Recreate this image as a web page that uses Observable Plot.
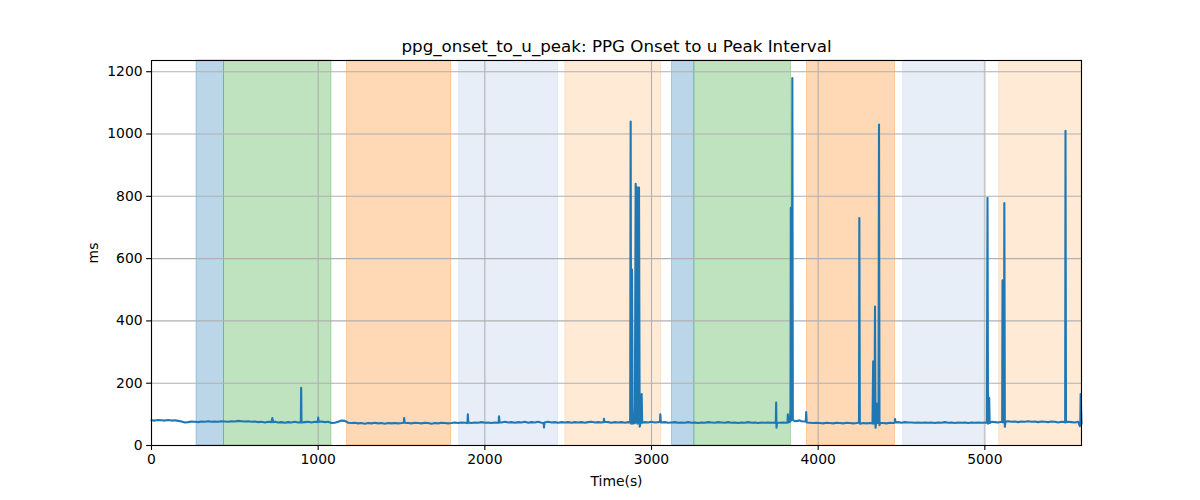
<!DOCTYPE html>
<html>
<head>
<meta charset="utf-8">
<script src="https://cdn.jsdelivr.net/npm/d3@7"></script>
<script src="https://cdn.jsdelivr.net/npm/@observablehq/plot@0.6"></script>
<style>
  html, body { margin: 0; padding: 0; background: white; }
  #chart { width: 1200px; height: 500px; }
</style>
</head>
<body>
<div id="chart"></div>
<script>
const chartTitle = "ppg_onset_to_u_peak: PPG Onset to u Peak Interval";
const xLabel = "Time(s)";
const yLabel = "ms";
const xTicks = [0, 1000, 2000, 3000, 4000, 5000];
const yTicks = [0, 200, 400, 600, 800, 1000, 1200];

// shaded phases: start (s), end (s), colour
const phaseStart = [270, 435, 1173, 1846, 2483, 3123, 3257, 3933, 4510, 5086];
const phaseEnd   = [435, 1080, 1798, 2439, 3057, 3257, 3837, 4461, 4996, 5580];
const phaseColor = ["#1f77b4", "#2ca02c", "#ff7f0e", "#aec7e8", "#ffbb78",
                    "#1f77b4", "#2ca02c", "#ff7f0e", "#aec7e8", "#ffbb78"];

// [time (s), interval (ms)]
const series = [
  [0,81],[20,80],[40,82],[60,81],[80,80],[100,82],[120,80],[140,81],[160,79],[180,77],
  [200,74],[220,75],[240,77],[260,76],[280,75],[300,77],[320,76],[340,78],[360,76],[380,77],
  [400,76],[420,78],[440,77],[460,76],[480,78],[500,77],[520,79],[540,78],[560,77],[580,78],
  [600,76],[620,77],[640,75],[660,76],[680,74],[700,76],[720,75],[725,88],[730,75],[740,76],
  [760,74],[780,75],[800,73],[820,75],[840,74],[860,76],[880,74],[896,75],[898,185],[900,74],
  [920,75],[940,76],[960,74],[980,76],[998,75],[1000,90],[1003,76],[1020,77],[1040,75],[1060,76],
  [1080,72],[1100,73],[1120,76],[1140,80],[1160,79],[1180,73],[1200,72],[1220,73],[1240,71],[1260,72],
  [1280,70],[1300,72],[1320,71],[1340,73],[1360,71],[1380,72],[1400,70],[1420,72],[1440,71],[1460,72],
  [1480,71],[1500,72],[1514,73],[1516,88],[1519,73],[1540,72],[1560,71],[1580,73],[1600,72],[1620,71],
  [1640,73],[1660,72],[1680,70],[1700,72],[1720,71],[1740,73],[1760,72],[1780,71],[1800,72],[1820,74],
  [1840,72],[1860,74],[1880,73],[1896,72],[1898,100],[1901,74],[1920,72],[1940,74],[1960,73],[1980,75],
  [2000,73],[2020,74],[2040,72],[2060,74],[2083,73],[2085,94],[2088,75],[2100,74],[2120,76],[2140,74],
  [2160,75],[2180,73],[2200,75],[2220,74],[2240,76],[2260,73],[2280,75],[2300,74],[2320,76],[2340,73],
  [2353,72],[2355,58],[2358,74],[2380,76],[2400,74],[2420,75],[2440,73],[2460,75],[2480,74],[2500,75],
  [2520,73],[2540,75],[2560,74],[2580,75],[2600,73],[2620,75],[2640,76],[2660,74],[2680,75],[2700,74],
  [2713,75],[2715,86],[2718,76],[2740,75],[2760,73],[2780,75],[2800,74],[2820,75],[2840,73],[2860,75],
  [2872,74],[2875,1040],[2878,70],[2881,80],[2883,565],[2886,130],[2889,70],[2894,76],[2900,72],[2905,840],
  [2908,75],[2912,830],[2915,70],[2920,78],[2925,828],[2929,60],[2935,74],[2938,75],[2941,165],[2944,73],
  [2960,75],[2980,74],[3000,76],[3020,74],[3040,75],[3051,76],[3053,100],[3056,74],[3080,75],[3100,73],
  [3120,74],[3140,75],[3160,73],[3180,74],[3200,73],[3220,75],[3240,73],[3260,74],[3280,72],[3300,74],
  [3320,73],[3340,75],[3360,74],[3380,73],[3400,75],[3420,74],[3440,73],[3460,75],[3480,73],[3500,74],
  [3520,72],[3540,74],[3560,73],[3580,75],[3600,73],[3620,74],[3640,72],[3660,74],[3680,73],[3700,74],
  [3720,73],[3740,74],[3746,72],[3748,138],[3750,57],[3753,74],[3770,73],[3790,74],[3810,73],[3816,75],
  [3818,100],[3821,74],[3830,76],[3834,120],[3836,763],[3838,80],[3842,90],[3845,1180],[3848,82],[3860,78],
  [3880,79],[3886,81],[3900,78],[3920,77],[3926,77],[3928,107],[3931,74],[3950,73],[3970,72],[3990,73],
  [4010,72],[4030,71],[4050,73],[4070,72],[4090,71],[4110,73],[4130,72],[4150,71],[4170,73],[4190,72],
  [4210,71],[4230,72],[4243,73],[4245,80],[4247,730],[4250,72],[4252,70],[4270,72],[4290,71],[4310,72],
  [4326,71],[4330,270],[4332,70],[4338,72],[4341,446],[4344,57],[4348,74],[4353,135],[4356,72],[4362,74],
  [4365,1030],[4368,65],[4372,73],[4390,72],[4410,71],[4430,73],[4450,72],[4459,73],[4461,85],[4464,74],
  [4480,75],[4500,73],[4520,75],[4540,74],[4560,74],[4580,73],[4600,74],[4620,73],[4640,74],[4660,73],
  [4680,74],[4700,72],[4720,74],[4740,73],[4760,75],[4780,73],[4800,74],[4820,72],[4840,74],[4860,73],
  [4880,74],[4900,72],[4920,74],[4940,73],[4960,74],[4980,73],[5000,74],[5012,73],[5016,795],[5019,70],
  [5023,75],[5026,153],[5029,72],[5040,76],[5060,75],[5080,74],[5100,76],[5104,75],[5106,530],[5108,76],
  [5115,74],[5117,778],[5120,60],[5124,77],[5140,78],[5160,76],[5180,77],[5200,75],[5220,77],[5240,76],
  [5260,78],[5280,76],[5300,77],[5320,75],[5340,77],[5360,76],[5380,75],[5400,77],[5420,76],[5440,74],
  [5460,76],[5480,75],[5482,74],[5484,1010],[5487,75],[5500,76],[5520,75],[5540,74],[5560,76],[5570,62],
  [5573,75],[5575,165],[5580,70]
];

const phases = phaseStart.map((s, i) => ({start: s, end: phaseEnd[i], color: phaseColor[i]}));
const points = series.map(([t, v]) => ({t, v}));

const font = "DejaVu Sans, sans-serif";

const chart = Plot.plot({
  width: 1200,
  height: 500,
  marginLeft: 151,
  marginRight: 119,
  marginTop: 60,
  marginBottom: 55,
  style: {fontFamily: font, fontSize: "13.9px", color: "black", background: "white", overflow: "visible"},
  x: {domain: [0, 5580], label: null},
  y: {domain: [0, 1236], label: null},
  marks: [
    Plot.rect(phases, {x1: "start", x2: "end", fill: "color", fillOpacity: 0.3,
      stroke: "color", strokeOpacity: 0.3, strokeWidth: 1}),
    Plot.gridX(xTicks, {stroke: "#b0b0b0", strokeOpacity: 1, strokeWidth: 1.1}),
    Plot.gridY(yTicks, {stroke: "#b0b0b0", strokeOpacity: 1, strokeWidth: 1.1}),
    Plot.line(points, {x: "t", y: "v", stroke: "#1f77b4", strokeWidth: 2.1, strokeLinejoin: "round"}),
    Plot.frame({stroke: "black", strokeWidth: 1.1}),
    Plot.axisX(xTicks, {tickSize: 4.9, tickPadding: 4, fontSize: 13.9, label: null, tickFormat: d => String(d), strokeWidth: 1.1}),
    Plot.axisY(yTicks, {tickSize: 4.9, tickPadding: 4, fontSize: 13.9, label: null, tickFormat: d => String(d), strokeWidth: 1.1}),
    Plot.text([chartTitle], {frameAnchor: "top", dy: -14, fontSize: 16.7, fill: "black", lineAnchor: "middle"}),
    Plot.text([xLabel], {frameAnchor: "bottom", dy: 36, fontSize: 13.9, fill: "black", lineAnchor: "middle"}),
    Plot.text([yLabel], {frameAnchor: "left", dx: -58, rotate: -90, fontSize: 13.9, fill: "black", textAnchor: "middle", lineAnchor: "middle"})
  ]
});
document.getElementById("chart").appendChild(chart);
</script>
</body>
</html>
